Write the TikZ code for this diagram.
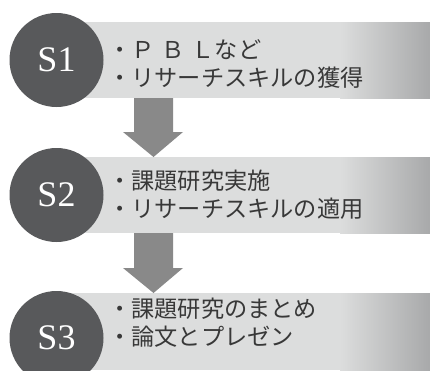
\documentclass[tikz,border=0pt]{standalone}
\usepackage{fontspec}
\newfontfamily\jpfont{Noto Sans CJK JP}
\newfontfamily\labfont{Liberation Serif}
\definecolor{circc}{HTML}{58595B}
\definecolor{bandlight}{HTML}{DCDDDD}
\definecolor{banddark}{HTML}{A8A9AA}
\definecolor{arrowc}{HTML}{898989}
\definecolor{txtc}{HTML}{383838}
\tikzset{
  stepcirc/.style={circle, fill=circc, minimum size=94pt, inner sep=0pt, text=white, font=\labfont\fontsize{36}{40}\selectfont},
  linetxt/.style={anchor=base west, inner sep=0pt, text=txtc, font=\jpfont\fontsize{23.2}{28}\selectfont},
  bandfill/.style={fill=bandlight},
  bandshade/.style={left color=bandlight, right color=banddark},
  arrowfill/.style={fill=arrowc}
}
\begin{document}
\begin{tikzpicture}[x=1pt,y=-1pt]
\useasboundingbox (0,0) rectangle (430,370);
\clip (0,0) rectangle (430,370);
% bands
\fill[bandfill] (57,22) rectangle (341,98);
\shade[bandshade] (340,22) rectangle (430,98);
\fill[bandfill] (57,157) rectangle (341,233);
\shade[bandshade] (340,157) rectangle (430,233);
\fill[bandfill] (57,293) rectangle (341,370);
\shade[bandshade] (340,293) rectangle (430,370);
% arrows
\fill[arrowfill] (134,98) -- (173,98) -- (173,132) -- (183,132) -- (153.5,157) -- (123,132) -- (134,132) -- cycle;
\fill[arrowfill] (134,233) -- (173,233) -- (173,268) -- (183,268) -- (153.5,293) -- (123,268) -- (134,268) -- cycle;
% circles
\node[stepcirc] (c1) at (56.5,60) {S1};
\node[stepcirc] (c2) at (56.5,195) {S2};
\node[stepcirc] (c3) at (56.5,338) {S3};
% texts
\node[linetxt] (t1a) at (108,58.6) {・Ｐ\hspace{7pt}Ｂ\hspace{7pt}Ｌなど};
\node[linetxt] (t1b) at (108,86.6) {・リサーチスキルの獲得};
\node[linetxt] (t2a) at (108,189.6) {・課題研究実施};
\node[linetxt] (t2b) at (108,217.6) {・リサーチスキルの適用};
\node[linetxt] (t3a) at (108,317.6) {・課題研究のまとめ};
\node[linetxt] (t3b) at (108,345.6) {・論文とプレゼン};
\end{tikzpicture}
\end{document}
